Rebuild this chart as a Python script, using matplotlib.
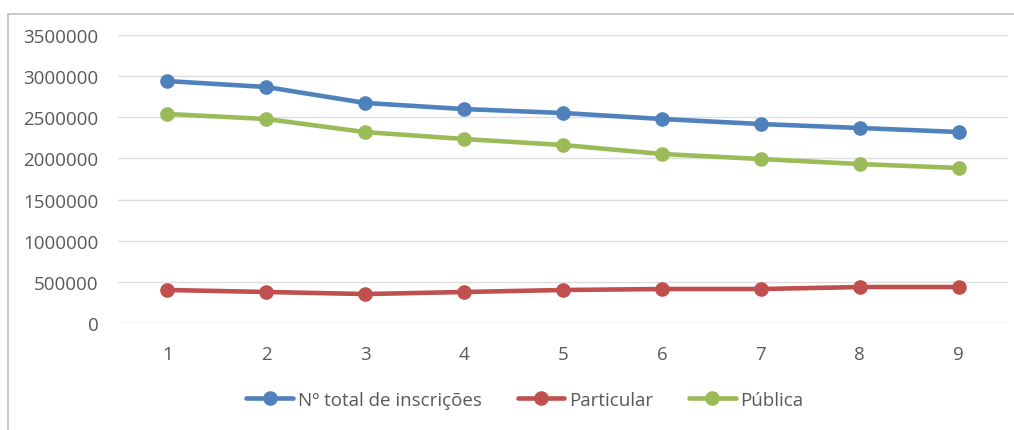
import matplotlib
matplotlib.use("Agg")
import matplotlib.pyplot as plt
from matplotlib.patches import Rectangle

# dados
anos = [1, 2, 3, 4, 5, 6, 7, 8, 9]
total = [2940000, 2868000, 2674000, 2600000, 2552000, 2479000, 2418000, 2370000, 2321000]
particular = [401000, 377000, 352000, 377000, 401000, 413000, 413000, 437000, 437000]
publica = [2540000, 2479000, 2320000, 2236000, 2163000, 2054000, 1993000, 1932000, 1884000]
series_names = ["Nº total de inscrições", "Particular", "Pública"]
yticks = [0, 500000, 1000000, 1500000, 2000000, 2500000, 3000000, 3500000]

colors = ["#4F81BD", "#C0504D", "#9BBB59"]
plt.rcParams['font.family'] = ['Open Sans', 'DejaVu Sans']

W, H = 1014, 431
fig = plt.figure(figsize=(W / 100, H / 100), dpi=100)
ax = fig.add_axes([118 / W, 1 - 324 / H, (1008 - 118) / W, (324 - 36) / H])

for vals, name, c in zip([total, particular, publica], series_names, colors):
    ax.plot(anos, vals, color=c, lw=3.3, marker='o', ms=9.5, label=name, solid_capstyle='round')

ax.set_xlim(0.5, 9.5)
ax.set_ylim(0, 3500000)
ax.set_yticks(yticks)
ax.set_yticklabels([str(v) for v in yticks])
ax.set_xticks(anos)
ax.grid(axis='y', color='#DDDDDD', lw=1)
ax.set_axisbelow(True)
for s in ax.spines.values():
    s.set_visible(False)
ax.tick_params(length=0, labelsize=13.5, labelcolor='#595959')
ax.tick_params(axis='y', pad=14)
ax.tick_params(axis='x', pad=16)

fig.legend(loc='center', bbox_to_anchor=(525 / W, 1 - 401 / H), ncol=3, frameon=False,
           fontsize=13.5, labelcolor='#595959', handlelength=2.5, columnspacing=1.9,
           handletextpad=0.25)

# moldura do gráfico
fig.patches.append(Rectangle((8 / W, -0.1), 1.2, 1 - 15 / H + 0.1, transform=fig.transFigure,
                             fill=False, edgecolor='#BFBFBF', lw=1.2))

fig.savefig("out.png", dpi=100)
